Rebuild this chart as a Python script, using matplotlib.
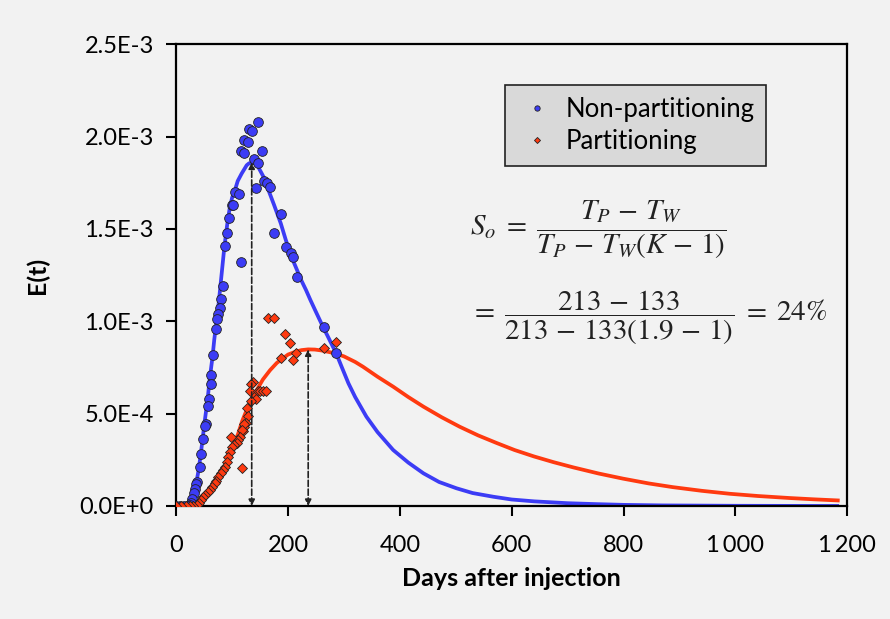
import matplotlib.pyplot as plt
import numpy as np

plt.rcParams['font.family'] = ['Lato', 'DejaVu Sans']
plt.rcParams['mathtext.fontset'] = 'stix'

# measured tracer data (days, E(t) in 1e-3)
np_days = [147, 131, 136, 122, 128, 115, 121, 154, 139, 146, 143, 157, 162, 168,
           105, 112, 99, 102, 95, 91, 88, 116, 188, 175, 196, 205, 209, 216,
           83, 80, 78, 74, 73, 71, 65, 63, 62, 58, 56, 53, 51, 48, 45, 42, 38, 36,
           33, 31, 29, 27, 25, 21, 14, 7, 0, 264, 286]
np_e = [2.08, 2.04, 2.03, 1.98, 1.97, 1.92, 1.91, 1.92, 1.88, 1.86, 1.72, 1.76, 1.75, 1.73,
        1.70, 1.69, 1.63, 1.63, 1.56, 1.48, 1.41, 1.32, 1.58, 1.48, 1.40, 1.37, 1.35, 1.24,
        1.19, 1.12, 1.07, 1.04, 1.01, 0.96, 0.815, 0.71, 0.66, 0.58, 0.54, 0.445, 0.435, 0.36,
        0.28, 0.21, 0.13, 0.12, 0.09, 0.07, 0.04, 0.015, 0.005, 0.0, 0.0, 0.0, 0.0, 0.97, 0.83]

p_days = [165, 174, 194, 204, 215, 208, 188, 264, 285, 137, 133, 132, 146, 150, 155, 160,
          142, 134, 126, 128, 124, 122, 119, 121, 117, 114, 111, 108, 104, 98, 99, 96,
          117, 93, 90, 87, 84, 80, 75, 72, 69, 64, 60, 56, 51, 48, 44, 41, 37,
          30, 24, 18, 9, 0]
p_e = [1.02, 1.02, 0.93, 0.88, 0.83, 0.79, 0.80, 0.855, 0.89, 0.67, 0.66, 0.625, 0.62, 0.625, 0.62, 0.62,
       0.58, 0.57, 0.533, 0.488, 0.448, 0.43, 0.407, 0.444, 0.411, 0.375, 0.357, 0.339, 0.33, 0.375, 0.321, 0.294,
       0.204, 0.267, 0.24, 0.213, 0.195, 0.177, 0.159, 0.137, 0.123, 0.105, 0.087, 0.074, 0.06, 0.047, 0.032, 0.018, 0.005,
       0.0, 0.0, 0.0, 0.0, 0.0]

# fitted curves
fit_np_days = [22, 25, 28, 32, 35, 39, 43, 47, 51, 56, 60, 65, 68, 72, 76, 81, 86, 91, 96, 100,
               105, 110, 117, 126, 130, 135, 140, 145, 153, 160, 165, 175, 187, 196, 206, 215,
               224, 232, 240, 250, 264, 270, 286, 297, 308, 320, 340, 360, 388, 415, 442, 470,
               501, 530, 567, 600, 640, 700, 751, 800, 870, 1000, 1182]
fit_np_e = [0.0, 0.015, 0.04, 0.069, 0.11, 0.177, 0.26, 0.357, 0.46, 0.574, 0.69, 0.81, 0.9, 1.0,
            1.1, 1.25, 1.40, 1.52, 1.62, 1.67, 1.71, 1.76, 1.80, 1.845, 1.855, 1.86, 1.855, 1.845,
            1.80, 1.76, 1.71, 1.63, 1.53, 1.44, 1.35, 1.285, 1.22, 1.17, 1.115, 1.05, 0.96, 0.925,
            0.827, 0.745, 0.664, 0.59, 0.484, 0.40, 0.303, 0.235, 0.177, 0.13, 0.096, 0.07, 0.05,
            0.035, 0.025, 0.015, 0.01, 0.006, 0.003, 0.001, 0.0]
fit_p_days = [30, 34, 40, 46, 53, 60, 69, 78, 87, 96, 103, 111, 118, 126, 135, 144, 155, 168,
              180, 191, 200, 213, 224, 236, 248, 260, 284, 300, 320, 334, 360, 388, 415, 442,
              475, 507, 540, 573, 605, 640, 675, 710, 755, 799, 845, 888, 940, 990, 1040,
              1097, 1140, 1183]
fit_p_e = [0.0, 0.005, 0.015, 0.032, 0.055, 0.087, 0.12, 0.159, 0.21, 0.267, 0.33, 0.394, 0.46,
           0.52, 0.578, 0.628, 0.685, 0.736, 0.775, 0.80, 0.82, 0.835, 0.844, 0.848, 0.847, 0.842,
           0.827, 0.81, 0.78, 0.754, 0.70, 0.646, 0.59, 0.538, 0.48, 0.429, 0.382, 0.341, 0.303,
           0.268, 0.237, 0.209, 0.176, 0.148, 0.122, 0.102, 0.082, 0.066, 0.054, 0.043, 0.036, 0.03]

x_ticks = [0, 200, 400, 600, 800, 1000, 1200]
x_labels = ['0', '200', '400', '600', '800', '1\u2009000', '1\u2009200']
y_ticks = [0, 0.5e-3, 1.0e-3, 1.5e-3, 2.0e-3, 2.5e-3]
y_labels = ['0.0E+0', '5.0E-4', '1.0E-3', '1.5E-3', '2.0E-3', '2.5E-3']

blue = '#3c3cf5'
red = '#ff3a10'

fig = plt.figure(figsize=(8.9, 6.19), dpi=100, facecolor='#f2f2f2')
ax = fig.add_axes([0.198, 0.1826, 0.754, 0.7458])
ax.set_facecolor('#f2f2f2')

sc = 1e-3
ax.plot(fit_np_days, np.array(fit_np_e) * sc, color=blue, lw=2.7, zorder=2)
ax.plot(fit_p_days, np.array(fit_p_e) * sc, color=red, lw=2.7, zorder=2)
ax.plot(np_days, np.array(np_e) * sc, 'o', color=blue, mec='#222222', mew=0.6, ms=7,
        label='Non-partitioning', zorder=3)
ax.plot(p_days, np.array(p_e) * sc, 'D', color=red, mec='#222222', mew=0.6, ms=5.6,
        label='Partitioning', zorder=3)

# dashed arrows at the peaks
for d, e in [(fit_np_days, fit_np_e), (fit_p_days, fit_p_e)]:
    i = int(np.argmax(e))
    ax.annotate('', xy=(d[i], e[i] * sc), xytext=(d[i], 0),
                arrowprops=dict(arrowstyle='<|-|>', color='#222222', lw=1.2, ls='--',
                                mutation_scale=9, shrinkA=0, shrinkB=0), zorder=4)

ax.set_xlim(0, 1200)
ax.set_ylim(0, 2.5e-3)
ax.set_xticks(x_ticks)
ax.set_xticklabels(x_labels)
ax.set_yticks(y_ticks)
ax.set_yticklabels(y_labels)
ax.tick_params(direction='out', length=7, width=1.5, labelsize=17, color='black')
ax.tick_params(axis='x', pad=14)
ax.tick_params(axis='y', pad=9)
for s in ax.spines.values():
    s.set_linewidth(1.6)
    s.set_color('black')

ax.set_xlabel('Days after injection', fontsize=18, fontweight='bold', labelpad=8)
ax.set_ylabel('E(t)', fontsize=18, fontweight='bold', labelpad=22)

leg = ax.legend(loc='upper left', bbox_to_anchor=(0.49, 0.912), fontsize=18.5,
                facecolor='#d9d9d9', edgecolor='#222222', framealpha=1, fancybox=False,
                markerscale=0.55, handlelength=1.6, handletextpad=0.3, borderpad=0.45,
                labelspacing=0.3, borderaxespad=0)
leg.get_frame().set_linewidth(1.2)

ax.text(0.438, 0.598, r'$S_o \;=\; \dfrac{T_P \,-\, T_W}{T_P \,-\, T_W(K \,-\, 1)}$',
        transform=ax.transAxes, fontsize=21, va='center', ha='left', color='#222222')
ax.text(0.438, 0.407, r'$=\; \dfrac{213 \,-\, 133}{213 \,-\, 133(1.9 \,-\, 1)} \;=\; 24\%$',
        transform=ax.transAxes, fontsize=21, va='center', ha='left', color='#222222')

fig.savefig('out.png', dpi=100, facecolor=fig.get_facecolor())
